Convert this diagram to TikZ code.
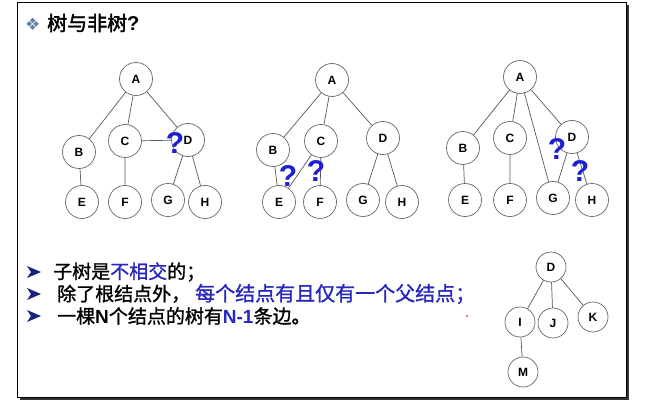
\documentclass[tikz,border=0pt]{standalone}
\usepackage{fontspec}
\setmainfont{Liberation Sans}
\newfontfamily\cjk{Noto Sans CJK SC}[FakeBold=1.2]
\newfontfamily\cjkt{Noto Sans CJK SC}[FakeBold=2]
\newfontfamily\dejavu{DejaVu Sans}
\begin{document}
\begin{tikzpicture}[x=1pt,y=-1pt,
  tn/.style={circle,draw=black!60,line width=0.7pt,fill=white,minimum size=33pt,inner sep=0pt,font=\bfseries\fontsize{12}{12}\selectfont},
  sn/.style={circle,draw=black!60,line width=0.7pt,fill=white,minimum size=30pt,inner sep=0pt,font=\bfseries\fontsize{12}{12}\selectfont},
  ed/.style={draw=black!65,line width=0.7pt},
  qm/.style={text=qblue,font=\bfseries\fontsize{30}{30}\selectfont,inner sep=0pt},
  ln/.style={anchor=west,inner sep=0pt,font=\cjk\fontsize{19}{19}\selectfont},
  arw/.style={fill=navy}]
\definecolor{qblue}{RGB}{30,30,210}
\definecolor{tblue}{RGB}{40,40,190}
\definecolor{navy}{RGB}{25,35,120}
\definecolor{dia}{RGB}{100,130,160}
\useasboundingbox (0,0) rectangle (645,409);
% frame with shadow
\fill[black!80] (20,5) rectangle (629,400);
\filldraw[fill=white,draw=black,line width=0.8pt] (17,2) rectangle (626,397);
% title
\node[anchor=west,inner sep=0pt,text=dia,font=\dejavu\fontsize{17}{17}\selectfont] (dm) at (25,24) {❖};
\node[anchor=west,inner sep=0pt,font=\cjkt\fontsize{20}{20}\selectfont] (title) at (47,23) {树与非树\textbf{\rmfamily ?}};
% tree 1
\node[tn] (a1) at (136,79) {A};
\node[tn] (b1) at (79,152) {B};
\node[tn] (c1) at (125,141) {C};
\node[tn] (d1) at (188,140) {D};
\node[tn] (e1) at (82,202) {E};
\node[tn] (f1) at (125,202) {F};
\node[tn] (g1) at (168,200) {G};
\node[tn] (h1) at (205,202) {H};
\path[ed] (a1)--(b1) (a1)--(c1) (a1)--(d1) (b1)--(e1) (c1)--(f1) (c1)--(d1) (d1)--(g1) (d1)--(h1);
\node[qm] (q1) at (175,143) {?};
% tree 2
\node[tn] (a2) at (332,80) {A};
\node[tn] (b2) at (273,150) {B};
\node[tn] (c2) at (321,141) {C};
\node[tn] (d2) at (383,138) {D};
\node[tn] (e2) at (279,202) {E};
\node[tn] (f2) at (320,202) {F};
\node[tn] (g2) at (363,200) {G};
\node[tn] (h2) at (402,202) {H};
\path[ed] (a2)--(b2) (a2)--(c2) (a2)--(d2) (b2)--(e2) (c2)--(e2) (c2)--(f2) (d2)--(g2) (d2)--(h2);
\node[qm] (q2) at (288,176) {?};
\node[qm] (q3) at (316,171) {?};
% tree 3
\node[tn] (a3) at (520,77) {A};
\node[tn] (b3) at (463,148) {B};
\node[tn] (c3) at (510,138) {C};
\node[tn] (d3) at (572,137) {D};
\node[tn] (e3) at (465,200) {E};
\node[tn] (f3) at (510,200) {F};
\node[tn] (g3) at (553,198) {G};
\node[tn] (h3) at (592,200) {H};
\path[ed] (a3)--(b3) (a3)--(c3) (a3)--(g3) (a3)--(d3) (b3)--(e3) (c3)--(f3) (d3)--(g3) (d3)--(h3);
\node[qm] (q4) at (557,149) {?};
\node[qm] (q5) at (580,171) {?};
% tree 4
\node[sn] (d4) at (551,267) {D};
\node[sn] (i4) at (520,322) {I};
\node[sn] (j4) at (553,323) {J};
\node[sn] (k4) at (593,317) {K};
\node[sn] (m4) at (523,372) {M};
\path[ed] (d4)--(i4) (d4)--(j4) (d4)--(k4) (i4)--(m4);
% bullets
\foreach \yy in {272,294,316}{
  \fill[arw] (27,\yy-6) -- (41,\yy) -- (27,\yy+6) -- (31,\yy) -- cycle;
}
% text
\node[ln] (l1) at (53,272) {子树是\textcolor{tblue}{不相交}的；};
\node[ln] (l2) at (57,294) {除了根结点外，\hspace{5pt}\textcolor{tblue}{\fontsize{20}{20}\selectfont 每个结点有且仅有一个父结点；}};
\node[ln] (l3) at (57,316) {一棵\textbf{\rmfamily N}个结点的树有\textcolor{tblue}{\textbf{\rmfamily N-1}}条边。};
\fill[red!70!black] (467,316) circle (0.9pt);
\end{tikzpicture}
\end{document}
